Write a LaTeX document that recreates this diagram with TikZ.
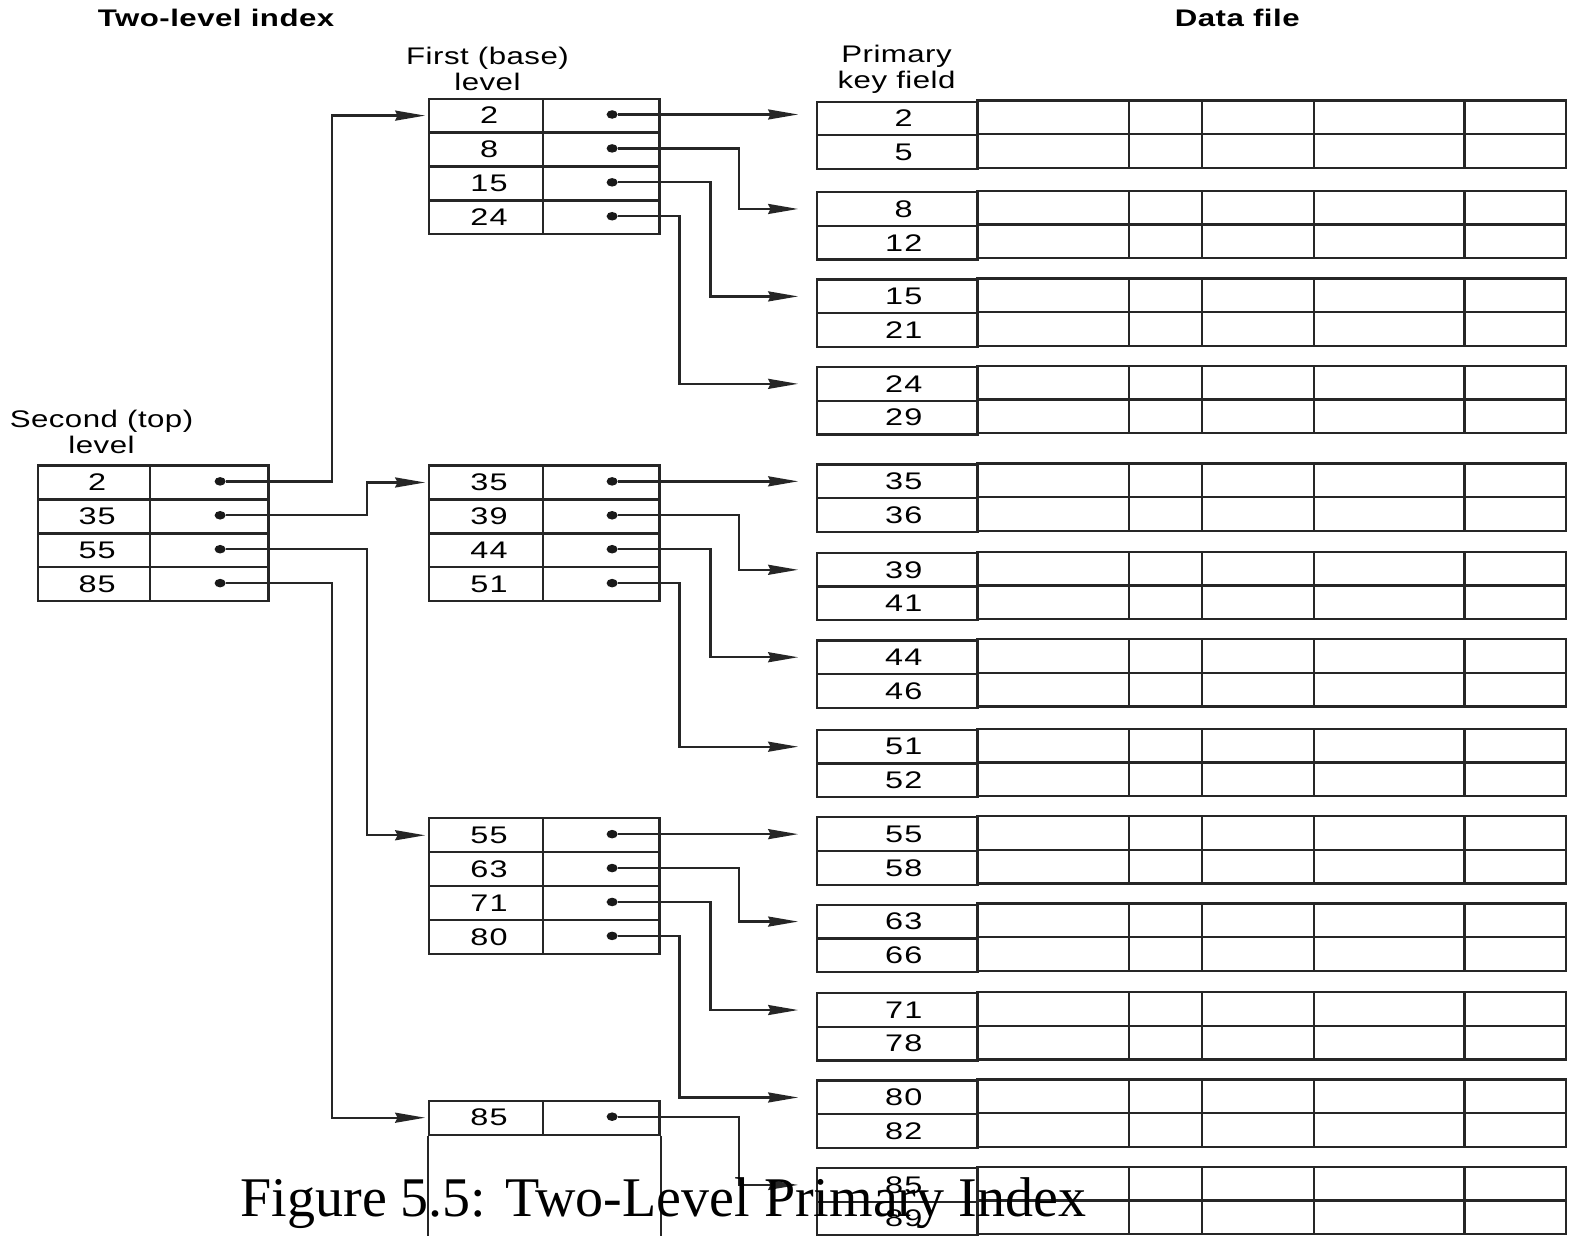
\documentclass[tikz,border=0pt]{standalone}
\usepackage{fontspec}
\setmainfont{Liberation Sans}
\newfontfamily\lblfont{Liberation Sans}[FakeStretch=1.3, LetterSpace=2]
\newfontfamily\digfont{Liberation Sans}[FakeStretch=1.35, LetterSpace=5]
\newfontfamily\capfont{Liberation Serif}
\usetikzlibrary{arrows.meta,shapes.geometric}
\begin{document}
\begin{tikzpicture}[x=0.5025pt,y=-0.5025pt,
  every node/.style={inner sep=0pt},
  ln/.style={line width=1.15pt, draw=black!85},
  cell/.style={ln, rectangle, minimum height=33.75*0.5025pt, anchor=north west, font=\digfont\fontsize{12}{12}\selectfont},
  dot/.style={ellipse, fill=black!90, minimum width=11*0.5025pt, minimum height=8.5*0.5025pt, inner sep=0pt},
  arr/.style={ln, -{Stealth[length=15pt,width=5pt,inset=1.2pt]}},
  ishort/.style={shorten >=1.5pt},
  dshort/.style={shorten >=9pt},
  lbl/.style={font=\lblfont\fontsize{12}{13}\selectfont, align=center},
  ttl/.style={font=\lblfont\bfseries\fontsize{12}{13}\selectfont},
  capt/.style={font=\capfont\fontsize{28}{30}\selectfont, anchor=base}
]
\useasboundingbox (0,0) rectangle (1568,1229);
\fill[white] (0,0) rectangle (1568,1229);

% titles and labels
\node[ttl] (ti) at (215,18) {Two-level index};
\node[ttl] (df) at (1231,18) {Data file};
\node[lbl] (fl) at (485,69) {First (base)\\level};
\node[lbl] (pk) at (892,69) {Primary\\key field};
\node[lbl] (sl) at (101,430) {Second (top)\\level};

% second (top) level
\foreach \k [count=\i from 0] in {2,35,55,85}{
  \node[cell, minimum width=111*0.5025pt] (tk\i) at (37,{462+\i*33.75}) {\kern3pt\k};
  \node[cell, minimum width=118*0.5025pt] (tp\i) at (148,{462+\i*33.75}) {};
  \node[dot] (td\i) at (219,{462+16.9+\i*33.75}) {};
}

% first (base) level blocks
\foreach \b/\yy/\ka/\kb/\kc/\kd in {1/97/2/8/15/24, 2/462/35/39/44/51, 3/813/55/63/71/80}{
  \foreach \k [count=\i from 0] in {\ka,\kb,\kc,\kd}{
    \node[cell, minimum width=113*0.5025pt] (f\b k\i) at (426,{\yy+\i*33.75}) {\kern3pt\k};
    \node[cell, minimum width=116*0.5025pt] (f\b p\i) at (539,{\yy+\i*33.75}) {};
    \node[dot] (f\b d\i) at (609,{\yy+16.9+\i*33.75}) {};
  }
}
\node[cell, minimum width=113*0.5025pt] (f4k0) at (426,1094) {\kern3pt 85};
\node[cell, minimum width=116*0.5025pt] (f4p0) at (539,1094) {};
\node[dot] (f4d0) at (609,1111) {};
\draw[ln] (f4k0.south west) -- ++(0,160);
\draw[ln] (f4p0.south east) -- ++(0,160);

% data file
\foreach \j/\yy/\ka/\kb in {1/100/2/5, 2/190/8/12, 3/277/15/21, 4/364/24/29, 5/461/35/36, 6/549/39/41, 7/636/44/46, 8/725/51/52, 9/812/55/58, 10/899/63/66, 11/987/71/78, 12/1074/80/82, 13/1161/85/89}{
  \node[cell, minimum width=160*0.5025pt, minimum height=33.5*0.5025pt] (dA\j) at (812,\yy) {\kern6pt\ka};
  \node[cell, minimum width=160*0.5025pt, minimum height=33.5*0.5025pt] (dB\j) at (812,\yy+33.5) {\kern6pt\kb};
  \draw[ln] (972,\yy) rectangle (1558,\yy+67);
  \draw[ln] (972,\yy+33.5) -- (1558,\yy+33.5);
  \foreach \x in {1123,1196,1307,1457} \draw[ln] (\x,\yy) -- (\x,\yy+67);
}

% routing columns
\coordinate (xl) at (330,0);
\coordinate (xm) at (365,0);
\coordinate (xa) at (735,0);
\coordinate (xb) at (707,0);
\coordinate (xc) at (676,0);

% top level -> first level
\draw[arr, ishort] (td0) -- (td0 -| xl) |- (f1k0.west);
\draw[arr, ishort] (td1) -- (td1 -| xm) |- (f2k0.west);
\draw[arr, ishort] (td2) -- (td2 -| xm) |- (f3k0.west);
\draw[arr, ishort] (td3) -- (td3 -| xl) |- (f4k0.west);

% first level -> data file
\draw[arr, dshort] (f1d0) -- (f1d0 -| dA1.west);
\draw[arr, dshort] (f1d1) -- (f1d1 -| xa) |- (dA2.west);
\draw[arr, dshort] (f1d2) -- (f1d2 -| xb) |- (dA3.west);
\draw[arr, dshort] (f1d3) -- (f1d3 -| xc) |- (dA4.west);
\draw[arr, dshort] (f2d0) -- (f2d0 -| dA5.west);
\draw[arr, dshort] (f2d1) -- (f2d1 -| xa) |- (dA6.west);
\draw[arr, dshort] (f2d2) -- (f2d2 -| xb) |- (dA7.west);
\draw[arr, dshort] (f2d3) -- (f2d3 -| xc) |- (dA8.west);
\draw[arr, dshort] (f3d0) -- (f3d0 -| dA9.west);
\draw[arr, dshort] (f3d1) -- (f3d1 -| xa) |- (dA10.west);
\draw[arr, dshort] (f3d2) -- (f3d2 -| xb) |- (dA11.west);
\draw[arr, dshort] (f3d3) -- (f3d3 -| xc) |- (dA12.west);
\draw[arr, dshort] (f4d0) -- (f4d0 -| xa) |- (dA13.west);

% caption
\node[capt] (cap) at (660,1210) {Figure 5.5: Two-Level Primary Index};
\end{tikzpicture}
\end{document}
